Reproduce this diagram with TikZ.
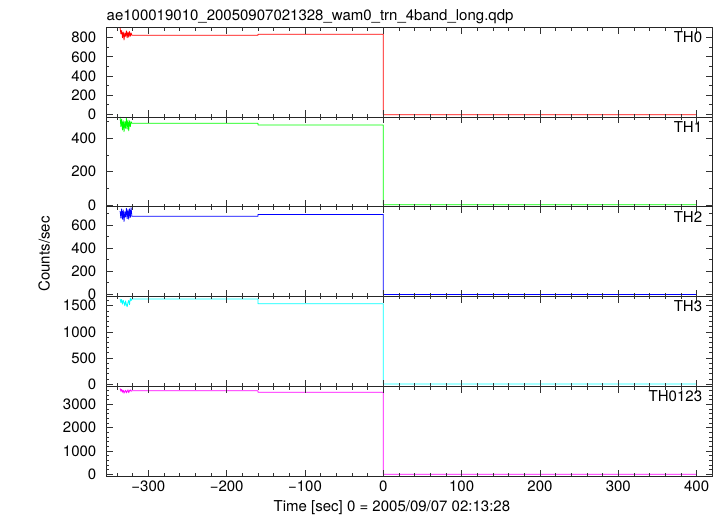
\documentclass[tikz,border=0pt]{standalone}
\usepackage{fontspec}
\setmainfont{TeX Gyre Heros}
\definecolor{qred}{RGB}{255,0,0}
\definecolor{qgreen}{RGB}{0,255,0}
\definecolor{qblue}{RGB}{0,0,255}
\definecolor{qcyan}{RGB}{0,255,255}
\definecolor{qmagenta}{RGB}{255,0,255}

% frame, ticks and tick labels of one panel
% #1 ymin, #2 ymax, #3 major values, #4 minor values, #5 label, #6 name
\newcommand\panelbox[6]{%
\draw[frame](-354,#1)rectangle(420,#2);
\foreach \t in {-340,-320,...,420}{\draw[tick](\t,#1)--++(0pt,3.3pt) (\t,#2)--++(0pt,-3.3pt);}
\foreach \t in {-300,-200,...,400}{\draw[tick](\t,#1)--++(0pt,6.5pt) (\t,#2)--++(0pt,-6.5pt);}
\foreach \v in {#4}{\draw[tick](-354,\v)--++(3.3pt,0pt) (420,\v)--++(-3.3pt,0pt);}
\foreach \v in {#3}{\draw[tick](-354,\v)--++(6.5pt,0pt) (420,\v)--++(-6.5pt,0pt);
  \node[lbl,anchor=east,xshift=-9.5pt](#6-\v)at(-354,\v){\v};}
\node[lbl,anchor=north east,xshift=-10pt,yshift=-4.5pt](#6)at(420,#2){#5};
}

\begin{document}
\begin{tikzpicture}[x=1pt,y=-1pt,
  frame/.style={draw=black!85,line width=0.9pt},
  tick/.style={black!80,line width=0.8pt},
  curve/.style={line width=0.8pt,line join=round},
  lbl/.style={font=\fontsize{15}{17}\selectfont,inner sep=0pt}]
\useasboundingbox(0,0)rectangle(723,516);

\node[lbl,anchor=base west](title)at(106.5,20.7){ae100019010\_20050907021328\_wam0\_trn\_4band\_long.qdp};
\node[lbl,anchor=base,rotate=90](ylabel)at(49.5,254){Counts/sec};
\node[lbl,anchor=base west](xlabel)at(273.5,511){Time [sec] 0 = 2005/09/07 02:13:28};

%TH0
\begin{scope}[shift={(383.3,114.3)},x=0.7833pt,y=0.09575pt]
\draw[curve,qred](-336,900)--(-335,840)--(-334,875)--(-333,800)--(-332,860)--(-331,776)--(-330,850)--(-329,815)--(-328,870)--(-327,800)--(-326,860)--(-325,805)--(-324,865)--(-323,815)--(-322,850)--(-321,826)--(-160,826)--(-160,836)--(0,836)--(0,-4)--(400,-4);
\panelbox{-28}{909}{0,200,...,800}{100,300,...,700}{TH0}{th0}
\end{scope}

%TH1
\begin{scope}[shift={(383.3,205)},x=0.7833pt,y=0.1667pt]
\draw[curve,qgreen](-336,528)--(-335,470)--(-334,515)--(-333,450)--(-332,505)--(-331,440)--(-330,500)--(-329,460)--(-328,520)--(-327,455)--(-326,510)--(-325,445)--(-324,505)--(-323,470)--(-322,500)--(-321,490)--(-160,490)--(-160,480)--(0,480)--(0,1)--(400,1);
\panelbox{-11}{528}{0,200,400}{100,300,500}{TH1}{th1}
\end{scope}

%TH2
\begin{scope}[shift={(383.3,294)},x=0.7833pt,y=0.115pt]
\draw[curve,qblue](-336,720)--(-335,660)--(-334,740)--(-333,650)--(-332,730)--(-331,630)--(-330,715)--(-329,670)--(-328,745)--(-327,655)--(-326,735)--(-325,650)--(-324,740)--(-323,665)--(-322,750)--(-321,676)--(-160,676)--(-160,692)--(0,692)--(0,-4)--(400,-4);
\panelbox{-22}{758}{0,200,...,600}{100,300,...,700}{TH2}{th2}
\end{scope}

%TH3
\begin{scope}[shift={(383.3,384.3)},x=0.7833pt,y=0.0524pt]
\draw[curve,qcyan](-336,1630)--(-335,1560)--(-334,1620)--(-333,1530)--(-332,1600)--(-331,1560)--(-330,1500)--(-329,1590)--(-328,1520)--(-327,1480)--(-326,1560)--(-325,1600)--(-324,1520)--(-323,1640)--(-322,1600)--(-321,1628)--(-160,1628)--(-160,1538)--(0,1538)--(0,6)--(400,6);
\panelbox{-36}{1685}{0,500,1000,1500}{100,200,...,1600}{TH3}{th3}
\end{scope}

%TH0123
\begin{scope}[shift={(383.3,474.3)},x=0.7833pt,y=0.02333pt]
\draw[curve,qmagenta](-336,3680)--(-335,3560)--(-334,3640)--(-333,3520)--(-332,3600)--(-331,3480)--(-330,3560)--(-329,3600)--(-328,3490)--(-327,3560)--(-326,3620)--(-325,3500)--(-324,3580)--(-323,3620)--(-322,3560)--(-321,3583)--(-160,3583)--(-160,3515)--(0,3515)--(0,5)--(400,5);
\panelbox{-73}{3776}{0,1000,2000,3000}{200,400,...,3600}{TH0123}{th4}
\foreach \t/\s in {-300/−300,-200/−200,-100/−100,0/0,100/100,200/200,300/300,400/400}
  \node[lbl,anchor=north,yshift=-5pt](x\t)at(\t,-73){\s};
\end{scope}
\end{tikzpicture}
\end{document}
